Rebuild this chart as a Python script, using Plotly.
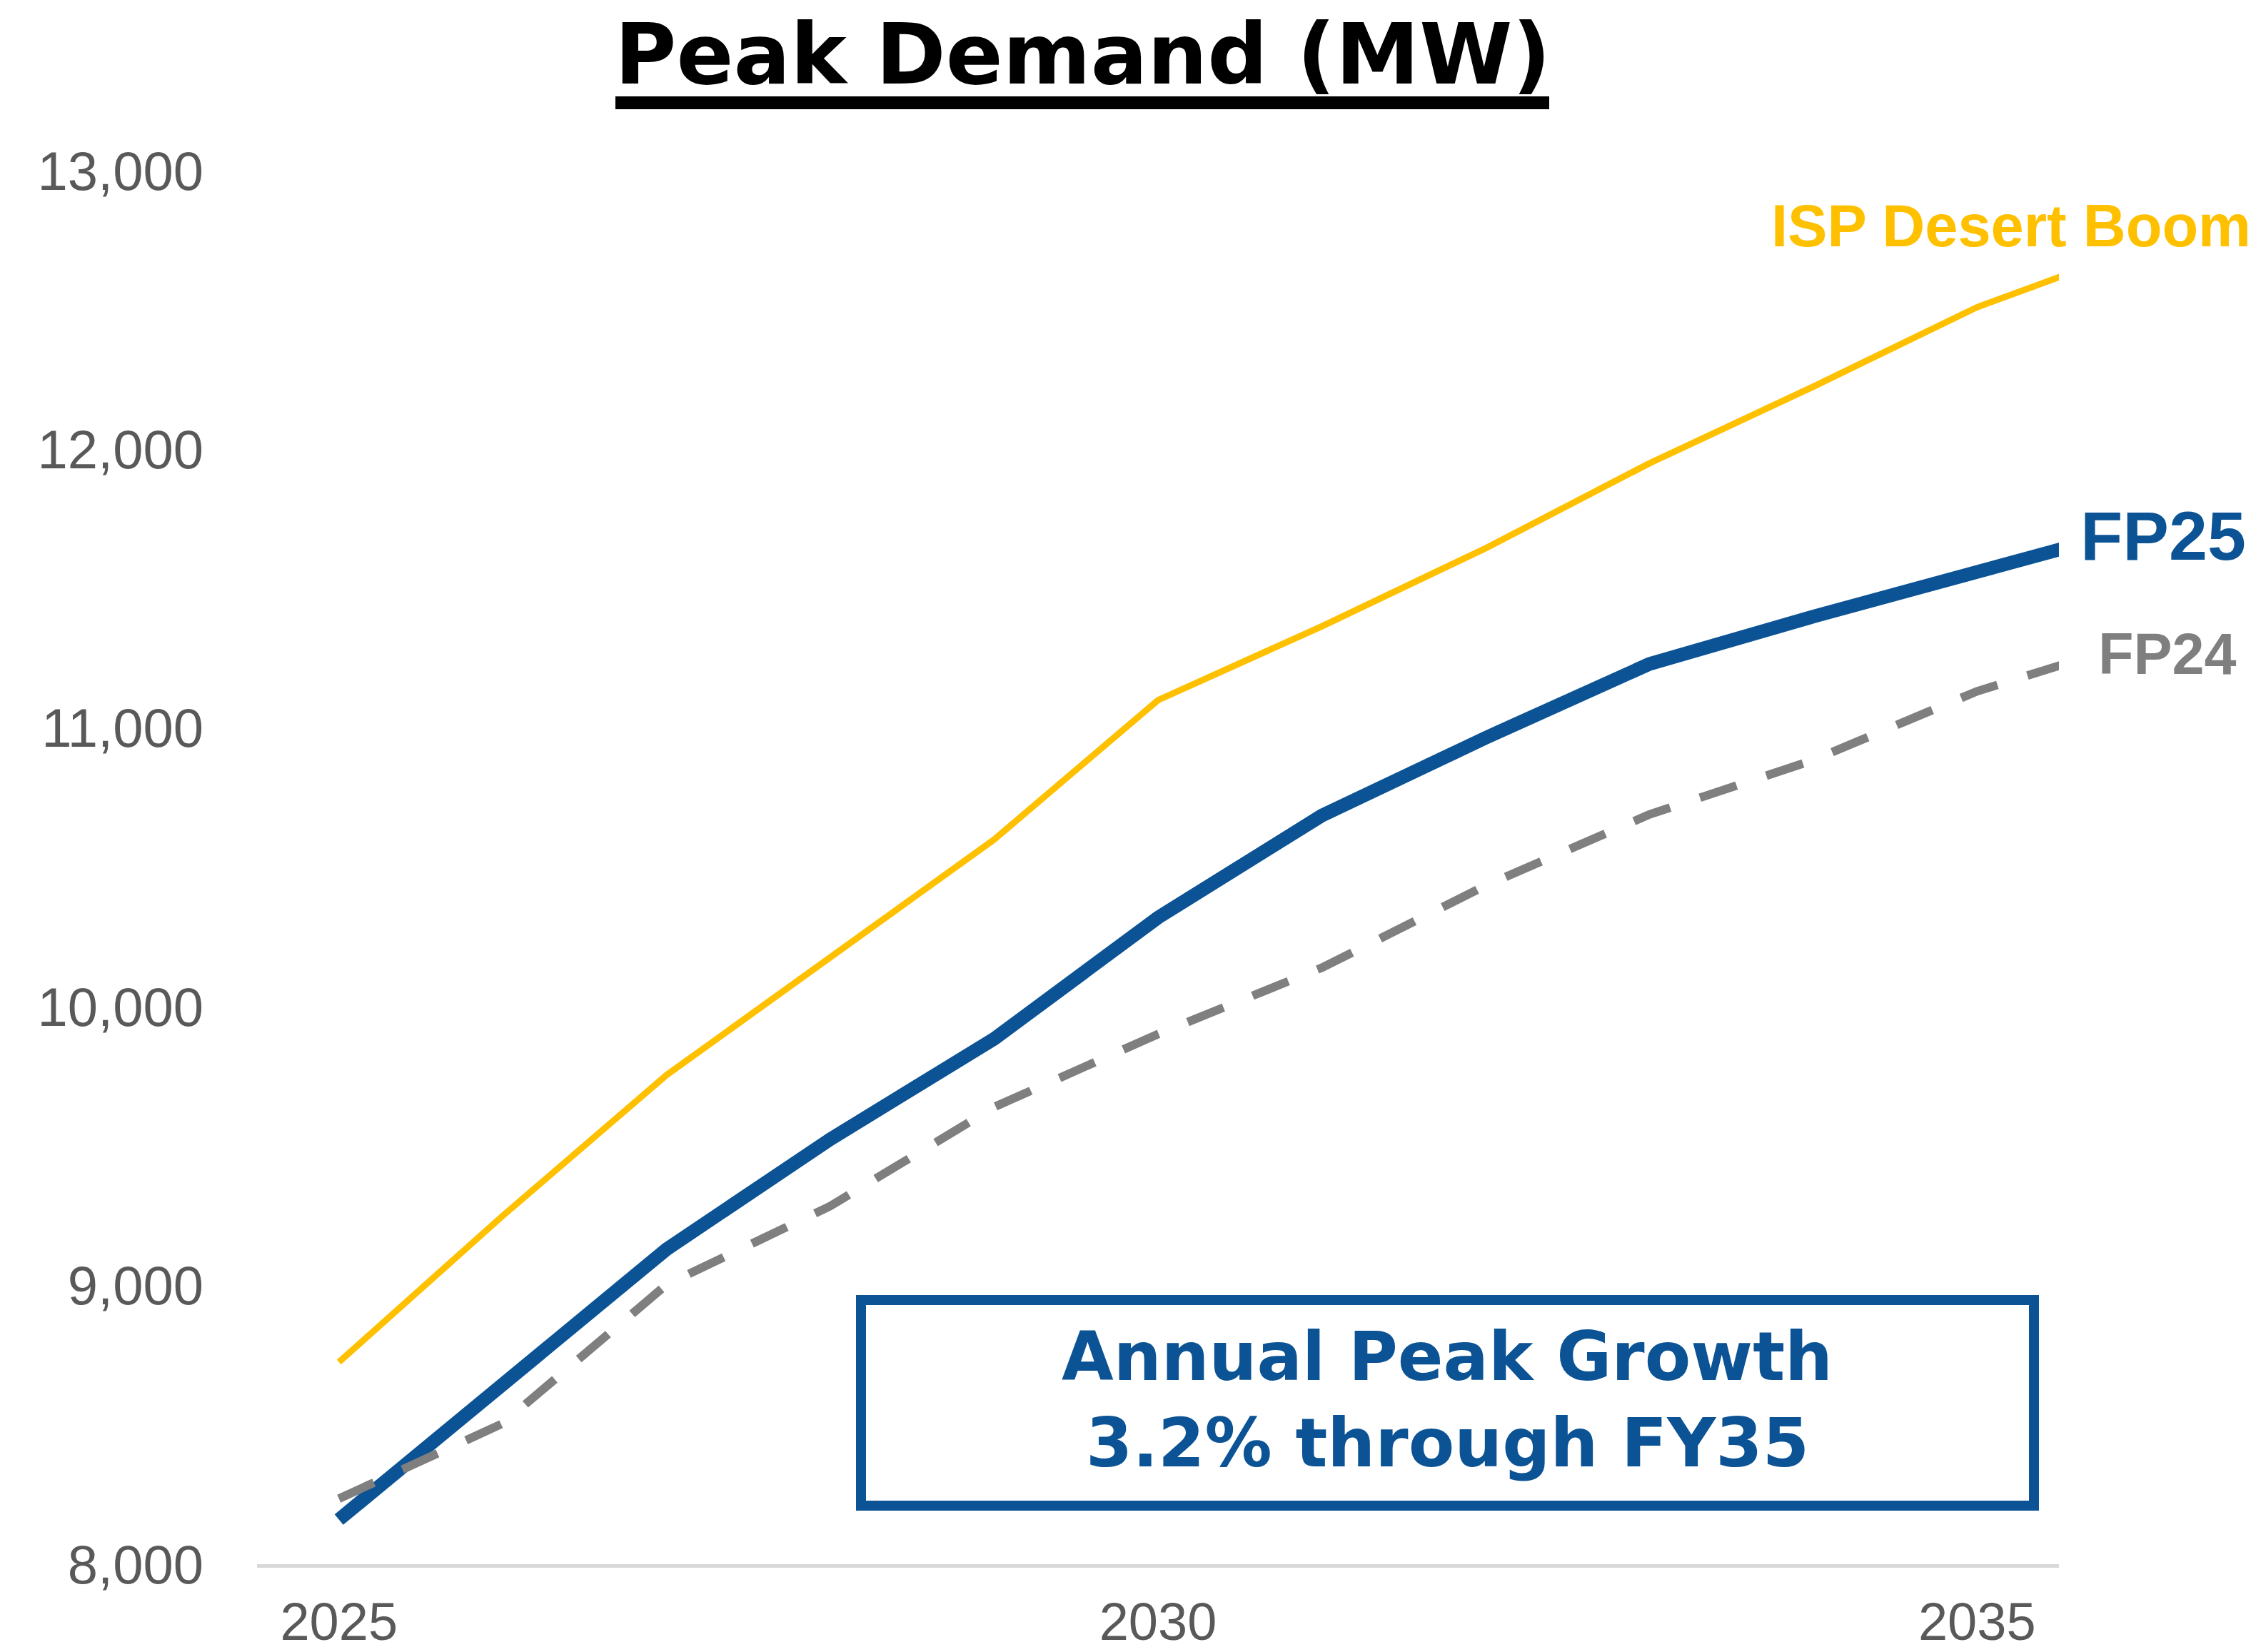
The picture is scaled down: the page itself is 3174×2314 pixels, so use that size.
import plotly.graph_objects as go

# ---- data ----
years = [2025, 2026, 2027, 2028, 2029, 2030, 2031, 2032, 2033, 2034, 2035, 2036]
isp_desert_boom = [8725, 9250, 9755, 10175, 10600, 11100, 11365, 11645, 11950, 12225, 12510, 12725]
fp25 = [8160, 8650, 9130, 9525, 9885, 10320, 10686, 10965, 11230, 11400, 11560, 11720]
fp24 = [8235, 8505, 9003, 9285, 9640, 9902, 10140, 10435, 10690, 10885, 11132, 11315]

y_ticks = [8000, 9000, 10000, 11000, 12000, 13000]
x_ticks = [2025, 2030, 2035]

title_text = "Peak Demand (MW)"
box_line1 = "Annual Peak Growth"
box_line2 = "3.2% through FY35"

# ---- styling ----
OFF = 8                      # page body margin of the html output
W, H = 3174 - OFF, 2314 - OFF
ML, MT = 360 - OFF, 239 - OFF
MR = W - (2884 - OFF)
MB = H - (2191 - OFF)
PW, PH = W - ML - MR, H - MT - MB
FONT = "Liberation Sans, Arial, sans-serif"
WIDE = "DejaVu Sans, Liberation Sans, sans-serif"
YELLOW = "#FFC000"
BLUE = "#0B5394"
GRAY = "#7F7F7F"
TICK = "#595959"


def px_x(px):
    return (px - OFF - ML) / PW


def px_y(py):
    return (H - MB - (py - OFF)) / PH


fig = go.Figure()
fig.add_trace(go.Scatter(x=years, y=isp_desert_boom, mode="lines",
                         line=dict(color=YELLOW, width=9), name="ISP Desert Boom"))
fig.add_trace(go.Scatter(x=years, y=fp25, mode="lines",
                         line=dict(color=BLUE, width=19), name="FP25"))
fig.add_trace(go.Scatter(x=years, y=fp24, mode="lines",
                         line=dict(color=GRAY, width=12, dash="54px,44px"), name="FP24"))

annotations = [
    dict(text="<b>" + title_text + "</b>", x=px_x(1516), y=px_y(76),
         font=dict(family=WIDE, size=118, color="black")),
    dict(text="<b>ISP Desert Boom</b>", x=px_x(2479), y=px_y(316), xanchor="left",
         font=dict(family=FONT, size=83, color=YELLOW)),
    dict(text="<b>FP25</b>", x=px_x(2912), y=px_y(750), xanchor="left",
         font=dict(family=FONT, size=97, color=BLUE)),
    dict(text="<b>FP24</b>", x=px_x(2937), y=px_y(916), xanchor="left",
         font=dict(family=FONT, size=81, color=GRAY)),
    dict(text="<b>" + box_line1 + "</b>", x=px_x(2027), y=px_y(1900),
         font=dict(family=WIDE, size=94, color=BLUE)),
    dict(text="<b>" + box_line2 + "</b>", x=px_x(2027), y=px_y(2021),
         font=dict(family=WIDE, size=94, color=BLUE)),
]
for a in annotations:
    a.setdefault("xanchor", "center")
    a.update(xref="paper", yref="paper", yanchor="middle", showarrow=False)

shapes = [
    # thick title underline
    dict(type="rect", xref="paper", yref="paper",
         x0=px_x(862), x1=px_x(2170), y0=px_y(153), y1=px_y(135),
         fillcolor="black", line=dict(width=0)),
    # callout box
    dict(type="rect", xref="paper", yref="paper",
         x0=px_x(1206), x1=px_x(2849), y0=px_y(2109), y1=px_y(1821),
         fillcolor="rgba(0,0,0,0)", line=dict(color=BLUE, width=14)),
]

fig.update_layout(
    width=W, height=H,
    margin=dict(l=ML, r=MR, t=MT, b=MB, pad=0, autoexpand=False),
    paper_bgcolor="white", plot_bgcolor="white",
    showlegend=False,
    annotations=annotations,
    shapes=shapes,
    font=dict(family=FONT, color=TICK),
    xaxis=dict(range=[2024.5, 2035.5], tickvals=x_ticks, ticktext=[str(t) for t in x_ticks],
               showgrid=False, zeroline=False, showline=True, linecolor="#D9D9D9", linewidth=5,
               ticks="", automargin=False,
               tickfont=dict(family=FONT, size=74, color=TICK), ticklabelstandoff=12),
    yaxis=dict(range=[8000, 13000], tickvals=y_ticks, tickformat=",d",
               showgrid=False, zeroline=False, showline=False,
               ticks="", automargin=False,
               tickfont=dict(family=FONT, size=76, color=TICK), ticklabelstandoff=74),
)

fig.write_html("out.html")
